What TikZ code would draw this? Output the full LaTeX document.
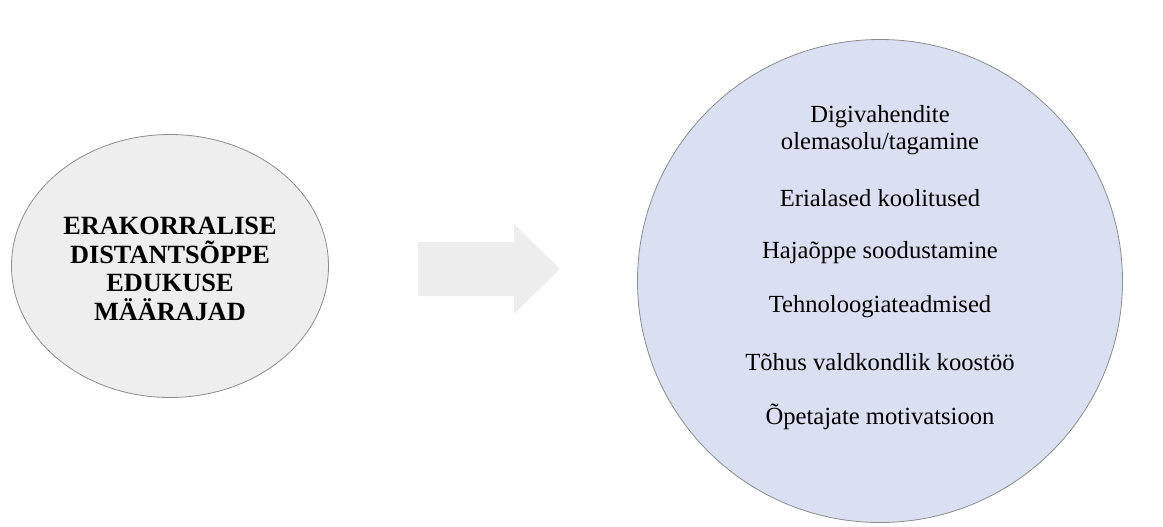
\documentclass[tikz,border=0pt]{standalone}
\usepackage{fontspec}
\setmainfont{Liberation Serif}
\usetikzlibrary{shapes.geometric}
\definecolor{leftfill}{HTML}{EEEEEE}
\definecolor{rightfill}{HTML}{DAE0F2}
\definecolor{rimgray}{HTML}{8C8C8C}
\definecolor{arrowgray}{HTML}{EDEDED}
\tikzset{
  blob/.style={ellipse, draw=rimgray, line width=0.8pt, inner sep=0pt},
  headtext/.style={align=center, font=\bfseries\fontsize{26.3}{28.4}\selectfont},
  itemtext/.style={align=center, font=\fontsize{24.6}{26.5}\selectfont}
}
\begin{document}
\begin{tikzpicture}[x=1pt,y=-1pt]
\useasboundingbox (0,0) rectangle (1163,527);
% source ellipse
\node[blob, fill=leftfill, minimum width=317, minimum height=263] (src) at (170,266) {};
\node[headtext] (srctext) at (170,269) {ERAKORRALISE\\DISTANTSÕPPE\\EDUKUSE\\MÄÄRAJAD};
% block arrow between the two shapes
\coordinate (a1) at (418,242);
\coordinate (a2) at (514,242);
\coordinate (a3) at (514,224);
\coordinate (a4) at (560,269);
\coordinate (a5) at (514,314);
\coordinate (a6) at (514,296);
\coordinate (a7) at (418,296);
\fill[arrowgray] (a1) -- (a2) -- (a3) -- (a4) -- (a5) -- (a6) -- (a7) -- cycle;
% target circle with its list of factors
\node[blob, fill=rightfill, minimum width=485, minimum height=483] (dst) at (880,281) {};
\node[itemtext] (t1) at (880,130) {Digivahendite\\olemasolu/tagamine};
\node[itemtext] (t2) at (880,198) {Erialased koolitused};
\node[itemtext] (t3) at (880,253) {Hajaõppe soodustamine};
\node[itemtext] (t4) at (880,307) {Tehnoloogiateadmised};
\node[itemtext] (t5) at (880,362) {Tõhus valdkondlik koostöö};
\node[itemtext] (t6) at (880,417) {Õpetajate motivatsioon};
\end{tikzpicture}
\end{document}
